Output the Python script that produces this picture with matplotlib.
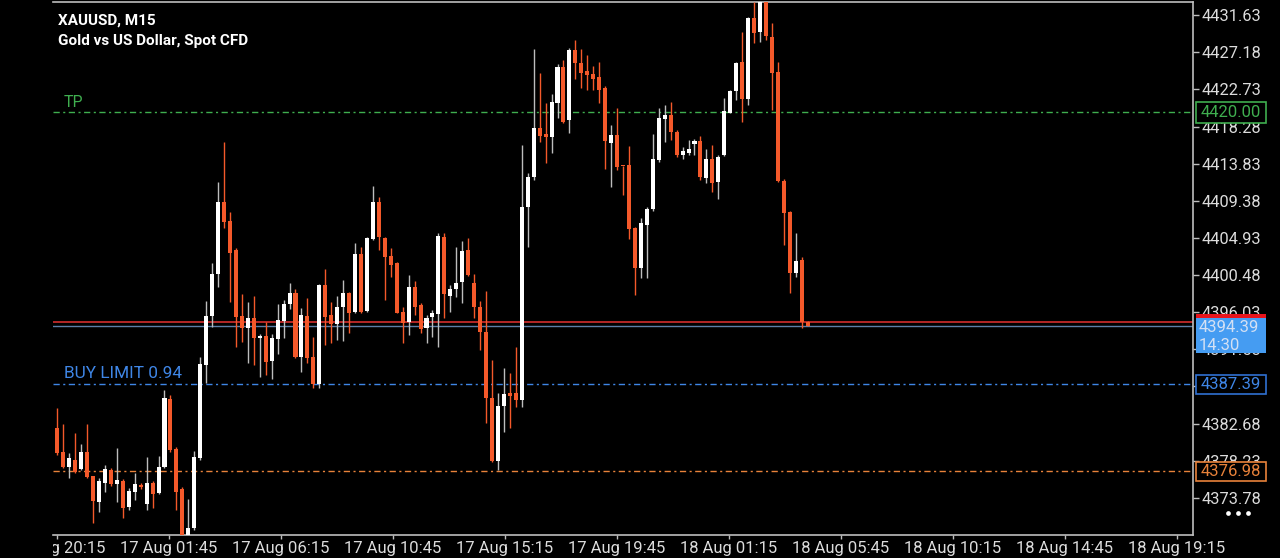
import matplotlib
matplotlib.use("Agg")
import matplotlib.pyplot as plt
from matplotlib.patches import Rectangle
from matplotlib.lines import Line2D
from matplotlib.transforms import Bbox, TransformedBbox, blended_transform_factory

plt.rcParams['font.family'] = ['Roboto', 'DejaVu Sans']

# ---- data (XAUUSD M15) ----
opens = [4382.18, 4379.31, 4377.51, 4378.31, 4377.20, 4379.23, 4376.39, 4373.31, 4375.59, 4377.11,
         4375.43, 4375.83, 4372.64, 4374.51, 4375.31, 4373.04, 4375.52, 4374.39, 4377.51, 4385.59,
         4379.59, 4374.80, 4369.00, 4370.12, 4378.51, 4389.70, 4395.58, 4400.61, 4409.28, 4407.00,
         4403.49, 4395.58, 4394.10, 4395.38, 4392.90, 4393.18, 4390.18, 4392.78, 4395.01, 4397.01,
         4398.29, 4390.70, 4395.58, 4390.62, 4387.42, 4399.29, 4395.66, 4394.57, 4396.61, 4398.37,
         4396.09, 4403.01, 4396.21, 4404.77, 4409.28, 4404.89, 4402.77, 4401.89, 4396.09, 4394.81,
         4399.09, 4396.89, 4394.10, 4395.49, 4395.78, 4405.08, 4398.01, 4398.85, 4399.65, 4403.49,
         4399.49, 4396.69, 4393.69, 4385.71, 4378.19, 4384.78, 4386.31, 4386.31, 4385.50, 4408.61,
         4412.20, 4418.15, 4417.36, 4417.07, 4421.15, 4425.46, 4419.07, 4427.47, 4425.94, 4424.98,
         4424.59, 4424.26, 4422.87, 4416.28, 4417.27, 4413.56, 4413.68, 4406.09, 4401.29, 4406.49,
         4408.37, 4414.28, 4419.16, 4419.67, 4417.67, 4414.88, 4415.15, 4416.20, 4416.59, 4412.08,
         4414.40, 4411.68, 4414.88, 4419.95, 4422.59, 4426.06, 4421.55, 4431.27, 4429.59, 4433.50,
         4429.06, 4424.86, 4411.76, 4408.01, 4400.77, 4402.29, 4394.89]
highs = [4384.58, 4382.63, 4379.11, 4381.58, 4380.23, 4382.59, 4376.45, 4376.15, 4377.71, 4377.35,
         4379.71, 4376.00, 4374.95, 4376.72, 4375.55, 4378.63, 4375.80, 4378.79, 4386.70, 4386.10,
         4379.87, 4375.07, 4373.60, 4379.43, 4390.70, 4397.41, 4401.97, 4411.68, 4416.40, 4408.08,
         4403.69, 4398.21, 4397.29, 4397.97, 4393.42, 4394.89, 4393.42, 4397.01, 4397.49, 4399.49,
         4398.77, 4396.49, 4397.69, 4393.10, 4399.40, 4401.17, 4397.29, 4397.97, 4399.89, 4398.45,
         4404.36, 4403.81, 4405.00, 4411.16, 4409.88, 4405.00, 4403.69, 4402.10, 4396.69, 4400.49,
         4399.81, 4397.10, 4395.69, 4396.30, 4405.56, 4405.56, 4399.29, 4403.88, 4404.60, 4404.89,
         4400.61, 4397.41, 4398.61, 4390.30, 4386.31, 4389.30, 4388.78, 4391.89, 4416.08, 4412.68,
         4427.55, 4424.67, 4421.08, 4422.19, 4425.79, 4426.27, 4427.67, 4428.66, 4427.55, 4426.87,
         4425.55, 4426.06, 4423.15, 4418.47, 4420.48, 4413.60, 4415.99, 4406.25, 4407.29, 4408.64,
         4417.36, 4420.48, 4420.87, 4421.27, 4417.90, 4415.87, 4416.68, 4416.76, 4417.16, 4415.56,
         4416.08, 4414.88, 4421.67, 4422.67, 4426.03, 4429.59, 4431.40, 4433.26, 4434.50, 4434.80,
         4430.67, 4426.06, 4412.00, 4408.20, 4405.49, 4402.61, 4394.97]
lows = [4378.91, 4377.35, 4376.12, 4376.72, 4377.11, 4376.12, 4370.72, 4372.11, 4374.51, 4375.19,
        4373.31, 4371.32, 4372.30, 4373.52, 4374.83, 4372.30, 4372.52, 4374.24, 4377.35, 4379.27,
        4372.30, 4368.50, 4368.50, 4369.92, 4378.31, 4387.51, 4394.29, 4399.09, 4406.09, 4397.29,
        4391.89, 4392.49, 4389.90, 4389.70, 4388.30, 4388.50, 4387.98, 4391.02, 4392.90, 4396.38,
        4390.60, 4388.90, 4389.90, 4386.90, 4386.90, 4392.10, 4392.30, 4392.70, 4392.62, 4393.50,
        4395.97, 4395.97, 4396.09, 4404.70, 4403.49, 4397.49, 4400.29, 4395.90, 4392.37, 4393.30,
        4395.69, 4393.50, 4392.37, 4393.09, 4391.82, 4395.30, 4396.09, 4397.89, 4397.10, 4400.40,
        4395.30, 4391.50, 4382.71, 4378.10, 4377.11, 4381.70, 4382.11, 4384.63, 4384.63, 4403.81,
        4411.88, 4416.47, 4413.88, 4415.08, 4419.28, 4418.70, 4417.55, 4423.95, 4422.87, 4422.67,
        4422.67, 4421.08, 4413.16, 4411.08, 4413.08, 4410.08, 4404.77, 4398.09, 4400.09, 4400.17,
        4408.20, 4414.07, 4416.47, 4416.68, 4414.67, 4414.40, 4414.88, 4414.88, 4411.88, 4411.56,
        4410.48, 4409.57, 4414.76, 4419.90, 4421.47, 4418.87, 4420.87, 4428.27, 4428.46, 4428.66,
        4420.27, 4411.64, 4404.09, 4398.37, 4400.29, 4394.10, 4394.35]
closes = [4379.19, 4377.51, 4378.51, 4376.91, 4379.23, 4376.31, 4373.39, 4375.83, 4377.20, 4375.43,
          4375.91, 4372.52, 4374.63, 4375.43, 4375.04, 4375.59, 4374.24, 4377.51, 4385.71, 4379.51,
          4374.51, 4368.80, 4370.12, 4378.71, 4389.78, 4395.61, 4400.61, 4409.28, 4406.88, 4403.16,
          4395.49, 4394.10, 4395.30, 4392.90, 4393.18, 4390.10, 4392.90, 4395.10, 4397.01, 4398.29,
          4390.70, 4395.69, 4390.50, 4387.42, 4399.29, 4395.49, 4394.57, 4396.69, 4398.37, 4395.97,
          4403.01, 4396.09, 4404.89, 4409.28, 4405.08, 4402.69, 4401.69, 4395.97, 4394.77, 4399.02,
          4396.61, 4393.98, 4395.38, 4395.90, 4405.17, 4398.18, 4398.85, 4399.49, 4403.40, 4400.49,
          4396.69, 4393.69, 4385.71, 4378.19, 4384.78, 4386.22, 4385.98, 4385.50, 4408.68, 4412.28,
          4418.15, 4417.16, 4417.07, 4421.20, 4425.46, 4418.87, 4427.47, 4425.87, 4424.67, 4424.47,
          4423.99, 4422.67, 4416.59, 4417.27, 4413.48, 4413.50, 4405.97, 4401.29, 4406.69, 4408.37,
          4414.36, 4419.28, 4419.67, 4417.67, 4414.88, 4415.36, 4415.60, 4416.59, 4412.20, 4414.40,
          4411.56, 4414.67, 4420.15, 4422.59, 4425.87, 4421.55, 4431.27, 4429.47, 4433.60, 4429.14,
          4424.74, 4411.76, 4407.89, 4400.77, 4402.20, 4394.89, 4394.39]

ytick_values = [4431.63, 4427.18, 4422.73, 4418.28, 4413.83, 4409.38, 4404.93,
                4400.48, 4396.03, 4391.58, 4387.13, 4382.68, 4378.23, 4373.78]
xtick_labels = ["16 Aug 20:15", "17 Aug 01:45", "17 Aug 06:15", "17 Aug 10:45",
                "17 Aug 15:15", "17 Aug 19:45", "18 Aug 01:15", "18 Aug 05:45",
                "18 Aug 10:15", "18 Aug 14:45", "18 Aug 19:15"]

tp_level = 4420.00
buy_limit_level = 4387.39
sl_level = 4376.98
bid_price = 4394.39
ask_price = 4394.86
bid_label = "4394.39"
countdown = "14:30"
symbol_title = "XAUUSD, M15"
symbol_desc = "Gold vs US Dollar, Spot CFD"
buy_limit_text = "BUY LIMIT 0.94"

# ---- style ----
BG = "#000000"
BULL = "#ffffff"
BULL_WICK = "#bdbdbd"
BEAR = "#f4592a"
GRID_TXT = "#dcdcdc"
GREEN = "#3fae4f"
BLUE = "#3f86e6"
ORANGE = "#e8823a"

W, H = 1280, 558
fig = plt.figure(figsize=(W / 100, H / 100), dpi=100, facecolor=BG)
L, R, T, B = 53, 1193, 2, 535
ax = fig.add_axes([L / W, (H - B) / H, (R - L) / W, (B - T) / H])
ax.set_facecolor(BG)

n = len(opens)
xs = list(range(n))
for i in xs:
    o, h, l, c = opens[i], highs[i], lows[i], closes[i]
    bull = c >= o
    col = BULL if bull else BEAR
    wcol = BULL_WICK if bull else BEAR
    ax.vlines(i, l, h, color=wcol, lw=1.0, zorder=3)
    bot = min(o, c)
    hgt = max(abs(c - o), 0.12)
    ax.bar(i, hgt, bottom=bot, width=0.68, color=col, edgecolor='none', zorder=4)

# horizontal order lines
dd = (0, (4.5, 2.5, 1.5, 2.5))
ax.axhline(tp_level, color=GREEN, lw=1.0, ls=dd, zorder=2)
ax.axhline(buy_limit_level, color=BLUE, lw=1.0, ls=dd, zorder=2)
ax.axhline(sl_level, color=ORANGE, lw=1.0, ls=dd, zorder=2)
ax.axhline(ask_price, color="#c22a2a", lw=1.3, zorder=2)
ax.axhline(bid_price, color="#5d7fa8", lw=1.0, zorder=2)

px_per_bar = 5.955
x0 = -(57.3 - L) / px_per_bar
ax.set_xlim(x0, x0 + (R - L) / px_per_bar)
ax.set_ylim(4369.32, 4433.22)

# spines
ax.spines["left"].set_visible(False)
for s in ["top", "right", "bottom"]:
    ax.spines[s].set_color("#bdbdbd")
    ax.spines[s].set_linewidth(1.2)

# y axis on right
ax.yaxis.tick_right()
ax.set_yticks(ytick_values)
ax.set_yticklabels([f"{v:.2f}" for v in ytick_values])
ax.tick_params(axis='y', colors="#bdbdbd", labelcolor=GRID_TXT, length=4, width=1,
               pad=2, labelsize=11.8, direction='out', left=False)

# x ticks (labels drawn manually so the leftmost one is clipped)
first_px = 57.0
step_px = 112.0
xtick_pos = [x0 + (first_px - L + k * step_px) / px_per_bar for k in range(len(xtick_labels))]
ax.set_xticks(xtick_pos)
ax.set_xticklabels([])
ax.tick_params(axis='x', colors="#bdbdbd", length=3, width=1, direction='out')
clip = TransformedBbox(Bbox([[L / W, 0], [1, 1]]), fig.transFigure)
btrans = blended_transform_factory(ax.transData, fig.transFigure)
for p, lab in zip(xtick_pos, xtick_labels):
    t = ax.text(p, 1 - 548 / H, lab, transform=btrans, ha='center', va='center',
                color=GRID_TXT, fontsize=12, clip_on=True)
    t.set_clip_box(clip)


def fx(x):
    return x / W


def fy(y):
    return 1 - y / H


# titles
fig.text(fx(58), fy(21), symbol_title, color="#ffffff", fontsize=11, fontweight='bold',
         va='center', ha='left')
fig.text(fx(58), fy(41), symbol_desc, color="#ffffff", fontsize=11, fontweight='bold',
         va='center', ha='left')

# line labels
fig.text(fx(64), fy(102), "TP", color=GREEN, fontsize=11.5, va='center', ha='left')
fig.text(fx(64), fy(374), buy_limit_text, color=BLUE, fontsize=12.4, va='center', ha='left')


# price boxes on right
def box(y0, y1, edge, face, lw=1.2):
    fig.patches.append(Rectangle((fx(1196), fy(y1)), fx(1266) - fx(1196), fy(y0) - fy(y1),
                                 transform=fig.transFigure, facecolor=face, edgecolor=edge,
                                 lw=lw, zorder=5))


box(101.5, 122.5, GREEN, BG)
fig.text(fx(1231), fy(112.5), f"{tp_level:.2f}", color=GREEN, fontsize=12, ha='center',
         va='center', zorder=6)

box(314, 317.5, "none", "#e8141c", lw=0)
box(317.5, 353, "none", "#459cf2", lw=0)
fig.text(fx(1199), fy(328), bid_label, color="#d3e0f4", fontsize=12, ha='left', va='center', zorder=6)
fig.text(fx(1199), fy(345), countdown, color="#d3e0f4", fontsize=12, ha='left', va='center', zorder=6)

box(375, 393.5, "#2f70d2", BG)
fig.text(fx(1231), fy(384.5), f"{buy_limit_level:.2f}", color=BLUE, fontsize=12, ha='center',
         va='center', zorder=6)

box(461.5, 480.5, ORANGE, BG)
fig.text(fx(1231), fy(471), f"{sl_level:.2f}", color=ORANGE, fontsize=12, ha='center',
         va='center', zorder=6)

dots_x = [fx(1228), fx(1238), fx(1248)]
fig.add_artist(Line2D(dots_x, [fy(512.7)] * 3, transform=fig.transFigure, ls='none',
                      marker='o', markersize=3.4, color="#ffffff", markeredgewidth=0))

fig.savefig("out.png", dpi=100, facecolor=BG)
